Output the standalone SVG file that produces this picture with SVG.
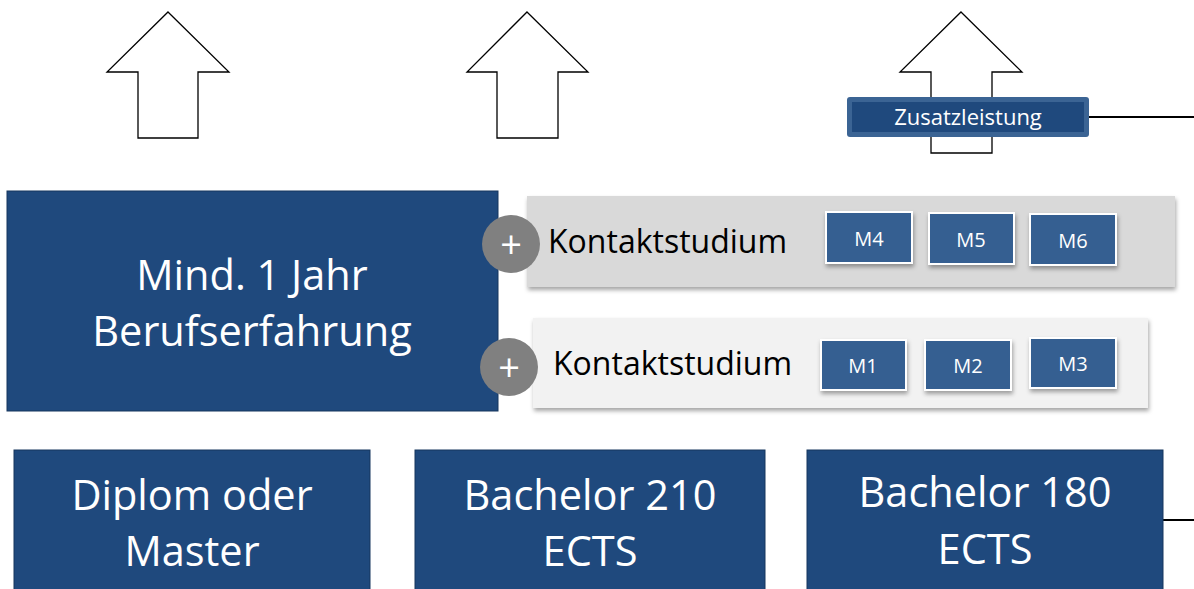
<svg xmlns="http://www.w3.org/2000/svg" width="1194" height="589" viewBox="0 0 1194 589">
<defs>
<filter id="sh" x="-10%" y="-10%" width="130%" height="140%"><feDropShadow dx="1" dy="3" stdDeviation="2" flood-color="#000" flood-opacity="0.35"/></filter>
<style>
.arrow{fill:#fff;stroke:#000;stroke-width:1.3}
.blue{fill:#1f497d;stroke:#17375e;stroke-width:1}
.big{font-family:"Open Sans","Liberation Sans",sans-serif;font-size:41.5px;fill:#fff;text-anchor:middle}
.ks{font-family:"Open Sans","Liberation Sans",sans-serif;font-size:32px;fill:#000}
.m{fill:#365f91;stroke:#fff;stroke-width:2;filter:url(#sh)}
.mt{font-family:"Open Sans","Liberation Sans",sans-serif;font-size:20px;fill:#fff;text-anchor:middle}
.plus{fill:#808080}
.line{stroke:#000;stroke-width:2;fill:none}
</style>
</defs>
<g id="connectors">
<line class="line" x1="1089" y1="117" x2="1194" y2="117"/>
<line class="line" x1="1163" y1="520" x2="1194" y2="520"/>
</g>
<g id="arrow1"><polygon class="arrow" points="168,12 229,72 198,72 198,138 138,138 138,72 107,72"/></g>
<g id="arrow2"><polygon class="arrow" points="527,12 588,72 558,72 558,138 497,138 497,72 467,72"/></g>
<g id="arrow3"><polygon class="arrow" points="961,12 1022,72 992,72 992,153 931,153 931,72 900,72"/></g>
<g id="zusatz">
<rect x="847" y="97" width="242" height="40" rx="3" fill="#3b6494"/>
<rect x="852" y="102" width="232" height="30" fill="#1f497d"/>
<text x="968" y="125" font-family="'Open Sans','Liberation Sans',sans-serif" font-size="22" fill="#fff" text-anchor="middle">Zusatzleistung</text>
</g>
<g id="beruf">
<rect class="blue" x="7" y="191" width="491" height="220"/>
<text class="big" x="252" y="290">Mind. 1 Jahr</text>
<text class="big" x="252" y="346">Berufserfahrung</text>
</g>
<g id="kontakt2">
<rect x="527" y="196" width="648" height="91" fill="#d9d9d9" filter="url(#sh)"/>
<circle class="plus" cx="511" cy="244" r="29"/>
<text x="511" y="258" font-family="'Open Sans','Liberation Sans',sans-serif" font-size="38" fill="#fff" text-anchor="middle">+</text>
<text class="ks" x="548" y="253">Kontaktstudium</text>
<rect class="m" x="826" y="212" width="86" height="51"/><text class="mt" x="869" y="246">M4</text>
<rect class="m" x="929" y="213" width="85" height="51"/><text class="mt" x="971" y="247">M5</text>
<rect class="m" x="1030" y="214" width="86" height="51"/><text class="mt" x="1073" y="248">M6</text>
</g>
<g id="kontakt1">
<rect x="533" y="318" width="615" height="90" fill="#f2f2f2" filter="url(#sh)"/>
<circle class="plus" cx="509" cy="367" r="29"/>
<text x="509" y="381" font-family="'Open Sans','Liberation Sans',sans-serif" font-size="38" fill="#fff" text-anchor="middle">+</text>
<text class="ks" x="553" y="375">Kontaktstudium</text>
<rect class="m" x="821" y="340" width="85" height="50"/><text class="mt" x="863" y="373">M1</text>
<rect class="m" x="925" y="340" width="86" height="50"/><text class="mt" x="968" y="373">M2</text>
<rect class="m" x="1030" y="338" width="86" height="50"/><text class="mt" x="1073" y="371">M3</text>
</g>
<g id="diplom">
<rect class="blue" x="14" y="450" width="356" height="145"/>
<text class="big" x="192" y="510">Diplom oder</text>
<text class="big" x="192" y="566">Master</text>
</g>
<g id="bachelor210">
<rect class="blue" x="415" y="450" width="350" height="145"/>
<text class="big" x="590" y="510">Bachelor 210</text>
<text class="big" x="590" y="566">ECTS</text>
</g>
<g id="bachelor180">
<rect class="blue" x="807" y="450" width="356" height="145"/>
<text class="big" x="985" y="507">Bachelor 180</text>
<text class="big" x="985" y="564">ECTS</text>
</g>
</svg>
